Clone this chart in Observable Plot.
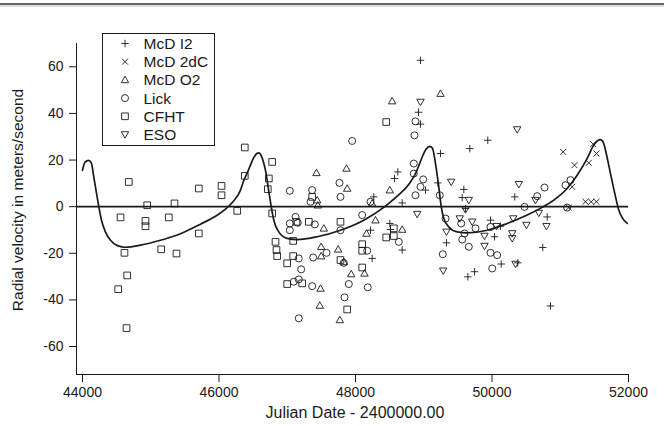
<!DOCTYPE html>
<html>
<head>
<meta charset="utf-8">
<script src="https://cdn.jsdelivr.net/npm/d3@7"></script>
<script src="https://cdn.jsdelivr.net/npm/@observablehq/plot@0.6"></script>
<style>
  html, body { margin: 0; padding: 0; background: #fff; }
  #chart { width: 664px; height: 426px; overflow: hidden; }
</style>
</head>
<body>
<div id="chart"></div>
<script>
// Radial velocity measurements, [Julian Date - 2400000, m/s], one list per observatory
const mcdI2 = [
  [48952, 62.8], [48923, 40.5], [48952, 35.4], [48268, 4.2], [48220, -10.1], [48244, -22.2],
  [48503, -7.2], [48512, -9.8], [48571, 12.1], [48620, 14.9], [48684, 1.6], [48684, -18.6],
  [49025, 7.1], [49206, 10.2], [49245, 22.8], [49333, -15.5], [49563, 3.9], [49587, 7.4],
  [49612, -0.8], [49646, -30.1], [49675, 24.9], [49744, -27.9], [49938, 28.5], [49978, -5.8],
  [50036, -12.9], [50124, -8.4], [50135, -24.6], [50334, 4.2], [50378, -24.1], [50744, -17.5],
  [50809, -4.4], [50857, -42.6]
];
const mcd2dC = [
  [51043, 23.5], [51125, -0.4], [51175, 8.5], [51209, 17.8], [51370, 2.1],
  [51418, 18.8], [51453, 2.1], [51482, 26.8], [51531, 22.8], [51531, 2.1]
];
const mcdO2 = [
  [47428, 14.5], [47448, 0.6], [47439, 2.8], [47497, -17.2], [47497, -21.2], [47536, -9.3],
  [47487, -35.1], [47477, -42.4], [47746, -18.3], [47770, -48.6], [47828, -23.7], [47868, 16.4],
  [47878, 7.8], [47937, -28.9], [48132, -28.6], [48161, -11.5], [48244, 1.4], [48293, -5.8],
  [48503, 7.1], [48537, 45.3], [48684, -9.8], [49245, 48.5]
];
const lick = [
  [47037, 6.8], [47037, -7.2], [47037, -10.1], [47121, -4.4], [47154, -6.9], [47169, -22.2],
  [47204, -26.9], [47096, -32.2], [47169, -31.2], [47169, -47.9], [47341, 2.1], [47365, 7.1],
  [47380, -21.8], [47365, -34.1], [47404, -7.6], [47575, -19.8], [47765, 10.2], [47780, 4.2],
  [47780, -10.1], [47828, -24.1], [47839, -38.9], [47902, -33.2], [47951, 28.2], [48098, -3.6],
  [48171, -18.9], [48180, -34.6], [48220, 2.1], [48634, -15.1], [48854, 18.5], [48854, 14.2],
  [48864, 30.6], [48879, 36.6], [48879, 4.9], [48952, 8.5], [48992, 11.7], [49235, 4.9],
  [49279, -20.4], [49319, -5.1], [49549, -7.2], [49563, -14.1], [49597, -11.5], [49660, -17.2],
  [49758, -9.3], [49978, -8.7], [49978, -19.8], [50003, -26.5], [50076, -20.8], [50476, -0.1],
  [50662, 4.5], [50769, 8.2], [51077, 9.2], [51101, -0.4], [51150, 11.4]
];
const cfht = [
  [44523, -35.4], [44557, -4.6], [44615, -19.8], [44655, -29.5], [44645, -52.1], [44678, 10.6],
  [44923, -6.1], [44923, -8.4], [44948, 0.6], [45153, -18.3], [45264, -4.6], [45348, 1.4],
  [45377, -20.1], [45704, 7.8], [45704, -11.5], [46037, 8.9], [46037, 4.9], [46267, -1.8],
  [46378, 25.4], [46378, 13.2], [46715, 7.5], [46730, 12.1], [46779, 19.2], [46779, -2.9],
  [46828, -15.1], [46842, -18.6], [46852, -21.2], [46999, -24.3], [46999, -33.2], [47087, -14.7],
  [47087, -21.2], [47135, -6.5], [47219, -32.9], [47316, -6.5], [47365, 4.2], [47780, -6.5],
  [47780, -22.9], [47878, -44.1], [48098, -16.1], [48098, -18.9], [48098, -26.1], [48450, 36.3],
  [48450, -13.2], [48561, -12.6], [48561, -9.3]
];
const eso = [
  [48904, -3.2], [48952, 44.9], [49285, -27.5], [49333, -10.8], [49402, 10.6], [49528, -5.1],
  [49612, -1.2], [49660, 2.8], [49710, -6.5], [49890, -12.6], [49890, -16.9], [50066, -8.4],
  [50296, -11.5], [50296, -13.6], [50310, -5.1], [50344, -24.6], [50369, 33.1], [50393, 9.6],
  [50505, -7.9], [50637, 2.8], [50686, -2.7], [50798, -8.4]
];

// Orbital solution as traced, [Julian Date - 2400000, m/s]
const orbit = [
  [44000, 15.6], [44037, 19.1], [44092, 19.9], [44132, 18.6], [44161, 13.5], [44205, 5.8],
  [44239, 0], [44278, -5.8], [44337, -10.9], [44410, -14.4], [44513, -16.7], [44630, -17.4],
  [44850, -16.5], [45143, -14.4], [45436, -11.6], [45729, -7.5], [45948, -4.1], [46095, -1.1],
  [46198, 1.9], [46315, 7.1], [46359, 10.9], [46418, 14.8], [46461, 17.8], [46505, 20.8],
  [46549, 22.7], [46586, 23.1], [46623, 21.6], [46652, 19.1], [46681, 15.6], [46730, 6.5],
  [46765, 0], [46803, -5.8], [46876, -10.8], [46999, -13.6], [47146, -14.1], [47439, -12.9],
  [47780, -10.1], [48121, -5.8], [48414, -0.3], [48611, 4.5], [48806, 10.6], [48879, 14.2],
  [48930, 17.8], [48977, 21.3], [49033, 24.6], [49089, 25.9], [49128, 25.1], [49172, 18.5],
  [49220, 8.5], [49256, 0], [49294, -5.1], [49367, -8.7], [49490, -10.8], [49637, -11.2],
  [49930, -10.1], [50223, -7.2], [50516, -3.6], [50735, -0.3], [50905, 2.8], [51101, 7.8],
  [51248, 13.5], [51395, 20.7], [51491, 26.4], [51546, 28.3], [51590, 28.8], [51634, 27.4],
  [51663, 24.2], [51736, 14.2], [51810, 4.2], [51858, -1.5], [51912, -4.9], [51981, -7.2]
];

const xTicks = [44000, 46000, 48000, 50000, 52000];
const yTicks = [-60, -40, -20, 0, 20, 40, 60];
const seriesNames = ["McD I2", "McD 2dC", "McD O2", "Lick", "CFHT", "ESO"];

// Open marker shapes; r is the half-extent in pixels
const shape = (draw) => ({ draw(ctx, size) { draw(ctx, Math.sqrt(size / Math.PI)); } });
const markers = [
  shape((c, s) => { c.moveTo(-s, 0); c.lineTo(s, 0); c.moveTo(0, -s); c.lineTo(0, s); }),
  shape((c, s) => { const t = s * 0.8; c.moveTo(-t, -t); c.lineTo(t, t); c.moveTo(-t, t); c.lineTo(t, -t); }),
  shape((c, s) => { c.moveTo(0, -s); c.lineTo(s, s * 0.75); c.lineTo(-s, s * 0.75); c.closePath(); }),
  shape((c, s) => { c.moveTo(s * 0.95, 0); c.arc(0, 0, s * 0.95, 0, 2 * Math.PI); }),
  shape((c, s) => { const h = s * 0.9; c.rect(-h, -h, 2 * h, 2 * h); }),
  shape((c, s) => { c.moveTo(0, s); c.lineTo(s, -s * 0.75); c.lineTo(-s, -s * 0.75); c.closePath(); })
];
const R = 3.7;
const ink = "#1a1a1a";
const font = "'Liberation Sans', Arial, Helvetica, sans-serif";

const toRows = (pairs) => pairs.map(([jd, rv]) => ({ jd, rv }));
const allSeries = [mcdI2, mcd2dC, mcdO2, lick, cfht, eso];

const chart = Plot.plot({
  width: 664,
  height: 426,
  marginLeft: 76,
  marginRight: 36,
  marginTop: 43,
  marginBottom: 52,
  style: { fontFamily: font, fontSize: "14px", color: ink, background: "#fff", overflow: "visible" },
  x: { domain: [43912, 52000], ticks: xTicks, tickFormat: d => String(d), tickSize: 8, tickPadding: 5, label: null, line: true },
  y: { domain: [-72, 70], ticks: yTicks, tickFormat: d => String(d), tickSize: 7, tickPadding: 6, label: null, line: true },
  marks: [
    Plot.ruleY([0], { stroke: ink, strokeWidth: 1.6 }),
    Plot.line(toRows(orbit), { x: "jd", y: "rv", curve: "monotone-x", stroke: ink, strokeWidth: 1.7 }),
    ...allSeries.map((s, i) => Plot.dot(toRows(s), {
      x: "jd", y: "rv", symbol: markers[i], r: R, stroke: ink, strokeWidth: 0.9, fill: "none"
    }))
  ]
});

const svg = d3.select(chart);

// page rule along the top edge
svg.append("line").attr("x1", 0).attr("x2", 664).attr("y1", 4).attr("y2", 4)
  .attr("stroke", "#666").attr("stroke-width", 2);
svg.append("line").attr("x1", 0).attr("x2", 664).attr("y1", 6).attr("y2", 6)
  .attr("stroke", "#bbb").attr("stroke-width", 1);

// axis titles
svg.append("text").attr("x", 355).attr("y", 418).attr("text-anchor", "middle")
  .attr("font-family", font).attr("font-size", 16).attr("fill", ink)
  .text("Julian Date - 2400000.00");
svg.append("text").attr("transform", "translate(23,200) rotate(-90)").attr("text-anchor", "middle")
  .attr("font-family", font).attr("font-size", 15.5).attr("fill", ink)
  .text("Radial velocity in meters/second");

// legend box
const lg = svg.append("g").attr("transform", "translate(102.5,33.5)");
lg.append("rect").attr("width", 112).attr("height", 112)
  .attr("fill", "#fff").attr("stroke", ink).attr("stroke-width", 1);
seriesNames.forEach((name, i) => {
  const y = 10 + i * 18.2;
  lg.append("path").attr("transform", `translate(22.5,${y})`)
    .attr("d", d3.symbol(markers[i], Math.PI * R * R)())
    .attr("fill", "none").attr("stroke", ink).attr("stroke-width", 0.9);
  lg.append("text").attr("x", 41).attr("y", y).attr("dy", "0.36em").attr("text-anchor", "start")
    .attr("font-family", font).attr("font-size", 15.5).attr("fill", ink).text(name);
});

document.getElementById("chart").appendChild(chart);
</script>
</body>
</html>
